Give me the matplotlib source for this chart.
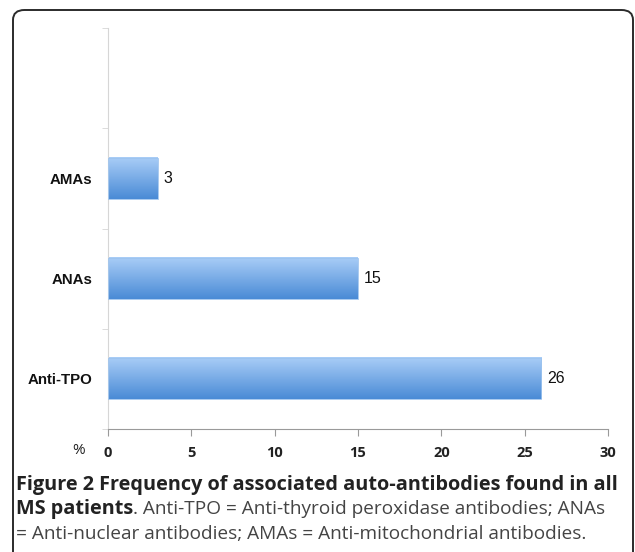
import numpy as np
import matplotlib.pyplot as plt
from matplotlib.patches import FancyBboxPatch
from matplotlib.colors import LinearSegmentedColormap

categories = ['Anti-TPO', 'ANAs', 'AMAs']
values = [26, 15, 3]
x_ticks = [0, 5, 10, 15, 20, 25, 30]

W, H = 635, 552
fig = plt.figure(figsize=(W / 100, H / 100), dpi=100)

# rounded frame around figure + caption
frame = FancyBboxPatch((13 / W, -20 / H), 620 / W, (H - 10 + 20) / H,
                       boxstyle='round,pad=0,rounding_size=0.018',
                       transform=fig.transFigure, fill=False,
                       edgecolor='#2b2b2b', linewidth=1.4)
fig.patches.append(frame)

ax = fig.add_axes([108 / W, (H - 429) / H, 500 / W, 401 / H])

grad = LinearSegmentedColormap.from_list('bar', ['#4a8bd6', '#a9cdf7'])
gimg = np.linspace(0, 1, 64).reshape(-1, 1)
bar_h = 0.41
for i, v in enumerate(values):
    ax.imshow(gimg, cmap=grad, origin='lower', aspect='auto',
              extent=(0, v, i - bar_h / 2, i + bar_h / 2), zorder=2)
    ax.add_patch(plt.Rectangle((0, i - bar_h / 2), v, bar_h, fill=False,
                               edgecolor='#9cc3ee', linewidth=0.6, zorder=3))
    ax.annotate(str(v), (v, i), xytext=(4, 0), textcoords='offset points',
                va='center', ha='left', fontsize=11.5,
                family='Liberation Sans', color='#111111')

ax.set_xlim(0, 30)
ax.set_ylim(-0.5, 3.5)

for sp in ['top', 'right']:
    ax.spines[sp].set_visible(False)
ax.spines['left'].set_color('#d6d6d6')
ax.spines['bottom'].set_color('#9a9a9a')

ax.set_xticks(x_ticks)
ax.set_xticklabels([str(t) for t in x_ticks], family='Open Sans',
                   fontweight='bold', fontsize=10.5, color='#222222')
ax.tick_params(axis='x', length=5, color='#9a9a9a', pad=7)

ax.set_yticks(range(len(categories)))
ax.set_yticklabels(categories, family='Liberation Sans', fontweight='bold',
                   fontsize=10.8, color='#111111')
ax.set_yticks([-0.5, 0.5, 1.5, 2.5, 3.5], minor=True)
ax.tick_params(axis='y', which='major', length=0, pad=11)
ax.tick_params(axis='y', which='minor', length=4, color='#d6d6d6')

fig.text(79 / W, 1 - 450 / H, '%', ha='center', va='center',
         family='Open Sans', fontsize=11, color='#222222')

# caption
bold_size = 14.3
reg_size = 13.7
x0 = 16 / W
fig.text(x0, 1 - 485 / H,
         'Figure 2 Frequency of associated auto-antibodies found in all',
         family='Open Sans', fontweight='bold', fontsize=bold_size,
         color='#222222', va='center')
t_bold = fig.text(x0, 1 - 509 / H, 'MS patients', family='Open Sans',
                  fontweight='bold', fontsize=bold_size, color='#222222',
                  va='center')
renderer = fig.canvas.get_renderer()
bb = t_bold.get_window_extent(renderer)
fig.text(bb.x1 / W, 1 - 509 / H,
         '. Anti-TPO = Anti-thyroid peroxidase antibodies; ANAs',
         family='Open Sans', fontsize=reg_size, color='#444444', va='center')
fig.text(x0, 1 - 534 / H,
         '= Anti-nuclear antibodies; AMAs = Anti-mitochondrial antibodies.',
         family='Open Sans', fontsize=reg_size, color='#444444', va='center')

fig.savefig('out.png', dpi=100)
